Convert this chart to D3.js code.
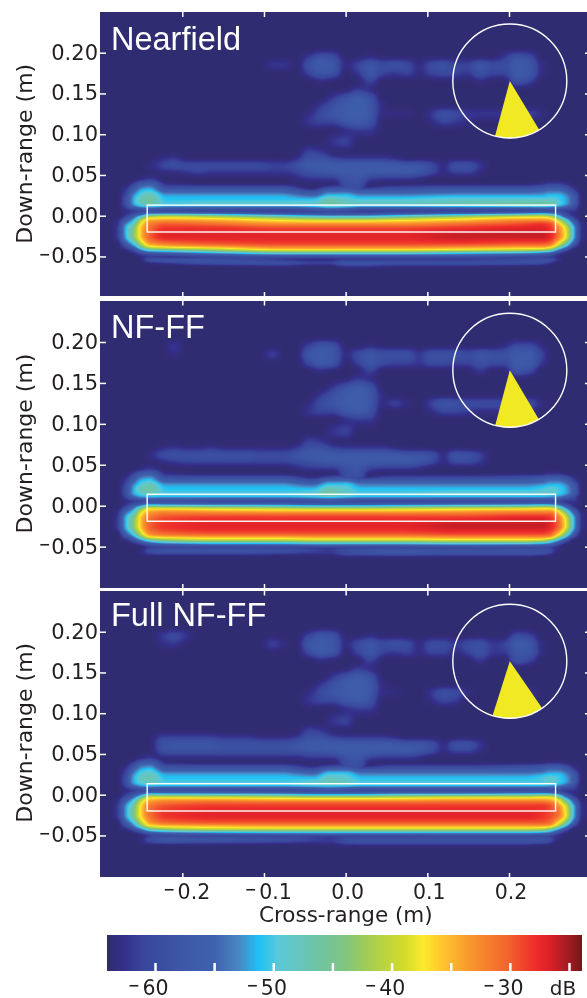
<!DOCTYPE html>
<html><head><meta charset="utf-8">
<script src="https://cdnjs.cloudflare.com/ajax/libs/d3/7.8.5/d3.min.js"></script>
<style>
html,body{margin:0;padding:0;background:#fff;overflow:hidden}
#c,#s{position:absolute;left:0;top:0}
text{font-family:"DejaVu Sans";fill:#231f20}
</style></head><body>
<canvas id="c" width="587" height="998"></canvas>
<svg id="s" width="587" height="998"></svg>
<script>
const panelNames=["Nearfield","NF-FF","Full NF-FF"];
const xTicks=[-0.2,-0.1,0,0.1,0.2];
const yTicks=[0.2,0.15,0.1,0.05,0,-0.05];
const cbTicks=[-60,-55,-50,-45,-40,-35,-30,-25];
const cbLabels=[-60,-50,-40,-30];
const floorDb=-64;
const apertureX=[-0.243,0.257];
const apertureY=[[0.013,-0.02],[0.014,-0.019],[0.0135,-0.02]];
const sectorCentreX=0.201;
const sectorCentreY=[0.1653,0.1655,0.1637];
const sectorFrom=[149,149.4,145.4];
const sectorTo=[195,194.8,197.6];
const cmapDb=[-64,-63.4,-62.6,-61,-58,-55,-53,-51.2,-49.6,-46.5,-44,-41.6,-38.8,-37.3,-35.7,-33.2,-30.3,-27.8,-26.7,-25,-24];
const cmapColors=["#302c71","#322d7a","#342f8a","#39469b","#3c56a5","#3e62ae","#4a84c1","#1fc2f5","#5ac8d8","#6cc4a8","#7fc481","#aacf4c","#d6dc2a","#fcea2e","#fec52e","#f8942c","#f3662e","#ee2c2a","#dd2128","#a01c22","#7a1618"];

// Levels are dB above the floor.
const bandCols=[-.29,-.28,-.27,-.26,-.25,-.24,-.22,-.16,-.08,-.04,-.02,0,.02,.06,.14,.22,.24,.25,.26,.27,.28,.29];
const bandRows=[.045,.04,.035,.03,.025,.02,.015,.012,.009,.006,.003,0,-.003,-.006,-.01,-.015,-.025,-.035,-.039,-.042,-.045,-.048,-.051,-.054,-.058,-.062,-.066];
const bandNear=[
[0,0,0,0,1,2,0,0,0,0,0,0,0,0,0,0,0,0,0,0,0,0],
[0,0,0,2,6,7,1,0,0,0,0,0,0,0,0,0,1,2,2,1,0,0],
[0,0,1,5,10,11,4,4,4,0,3,4,1,3,4,4,5,6,6,4,1,0],
[0,0,2,8,13,14,8,8,8,4,9,9,7,7,8,8,9,10,10,8,3,0],
[0,0,3,11,15,17,12,12,12,9,13,13,11,11,12,12,12,13,13,11,6,0],
[0,0,4,12,17,18,13,13,13,13,17,15,14,14,15,15,15,15,14,12,7,0],
[0,0,4,12,16,18,14,15,15,15,18,17,16,16,17,18,18,18,15,12,7,0],
[0,0,3,10,14,15,13,13,13,14,16,15,14,14,15,16,16,15,13,10,5,0],
[0,0,2,5,8,9,7,6,6,8,10,9,6,6,6,6,7,7,7,5,3,0],
[0,0,1,2,3,4,3,2,2,3,4,3,2,2,2,2,3,3,3,2,2,0],
[0,0,1,3,5,9,9,8,5,4,4,4,4,5,7,10,11,10,7,3,1,0],
[0,0,2,7,13,20,23,20,15,13,12,12,12,14,19,23,24,21,14,5,1,0],
[0,0,4,10,19,26,27,26,22,20,19,19,19,21,25,28,28,27,20,11,3,0],
[0,1,7,13,24,30,31,30,27,26,26,26,26,27,29,32,32,31,25,16,6,0],
[0,1,10,16,27,32,34,33,31,31,31,31,31,31,33,35,36,35,29,21,9,1],
[0,2,12,19,29,33,36,36,35,35,35,35,35,35,36,37,37,36,32,25,12,1],
[0,2,12,20,29,34,37,37,37,37,37,37,37,37,38,38,38,37,33,26,12,1],
[0,0,6,13,23,30,32,34,35,35,35,35,35,35,35,34,34,33,26,17,6,0],
[0,0,3,8,17,24,26,28,31,31,31,31,31,31,30,29,29,27,19,10,2,0],
[0,0,1,4,11,16,18,22,27,27,27,27,27,27,26,24,23,20,11,4,0,0],
[0,0,0,2,6,9,10,14,18,18,18,18,18,18,16,14,12,10,5,1,0,0],
[0,0,0,0,2,3,4,7,10,10,10,10,10,10,9,7,6,4,1,0,0,0],
[0,0,0,0,1,2,1,2,3,3,3,3,3,3,3,2,2,2,1,0,0,0],
[0,0,0,0,1,5,6,5,2,1,1,2,2,2,2,4,5,5,2,0,0,0],
[0,0,0,0,0,1,2,5,5,3,3,6,6,5,5,5,4,2,0,0,0,0],
[0,0,0,0,0,0,0,0,1,0,0,2,2,1,1,0,0,0,0,0,0,0],
[0,0,0,0,0,0,0,0,0,0,0,0,0,0,0,0,0,0,0,0,0,0]];
const bandNfff=[
[0,0,0,0,1,2,0,0,0,0,0,0,0,0,0,0,0,0,0,0,0,0],
[0,0,0,2,6,7,1,0,0,0,0,0,0,0,0,0,0,1,1,0,0,0],
[0,0,1,5,10,11,4,4,4,1,3,4,1,3,3,4,5,6,6,4,1,0],
[0,0,2,8,13,14,8,8,8,5,10,10,7,7,7,7,8,10,10,8,3,0],
[0,0,3,11,15,17,12,12,12,10,14,14,11,11,11,11,12,13,13,11,6,0],
[0,0,4,12,17,18,13,13,13,13,17,15,13,13,13,13,14,15,14,12,7,0],
[0,0,4,12,15,16,14,14,14,15,18,16,14,14,15,15,15,15,14,12,7,0],
[0,0,3,10,13,14,14,14,14,15,16,15,14,14,14,14,14,13,12,9,4,0],
[0,0,2,6,9,10,9,9,9,10,11,10,9,9,9,9,9,9,8,5,3,0],
[0,0,1,2,3,4,4,3,3,4,5,4,3,3,3,3,4,4,3,2,2,0],
[0,0,1,3,5,7,7,6,6,5,5,5,5,5,6,7,7,6,4,2,1,0],
[0,0,2,7,12,18,16,15,14,13,13,13,13,14,15,16,18,18,14,6,1,0],
[0,0,4,10,19,25,25,24,23,22,22,22,22,23,24,25,26,26,20,11,3,0],
[0,1,7,13,24,29,30,29,28,28,28,28,28,28,29,30,30,30,26,16,6,0],
[0,1,10,16,27,31,33,33,33,33,33,33,33,33,33,34,34,34,30,21,9,1],
[0,2,12,19,29,33,35,36,36,36,36,36,36,36,36,37,37,36,33,25,12,1],
[0,2,12,20,29,34,36,37,37,37,37,37,37,37,38,38,38,37,34,26,12,1],
[0,0,7,14,24,31,33,34,34,34,34,34,34,34,35,35,35,34,28,18,6,0],
[0,0,3,9,18,25,27,28,28,29,29,29,29,29,30,30,30,29,21,11,2,0],
[0,0,1,5,11,17,21,24,24,25,25,25,25,25,26,26,25,20,13,5,0,0],
[0,0,0,2,6,10,14,16,16,17,17,17,17,17,18,18,16,13,7,2,0,0],
[0,0,0,0,2,4,6,8,8,9,9,9,9,9,10,9,8,7,3,0,0,0],
[0,0,0,0,0,2,2,2,2,2,2,2,2,2,3,3,3,2,1,0,0,0],
[0,0,0,0,1,4,6,6,5,3,2,4,5,6,5,5,5,4,1,0,0,0],
[0,0,0,0,1,3,4,4,3,2,2,4,5,6,5,5,5,3,0,0,0,0],
[0,0,0,0,0,0,0,0,0,0,0,1,1,1,1,1,0,0,0,0,0,0],
[0,0,0,0,0,0,0,0,0,0,0,0,0,0,0,0,0,0,0,0,0,0]];
const bandFull=[
[0,0,0,0,1,2,0,0,0,0,0,0,0,0,0,0,0,0,0,0,0,0],
[0,0,0,2,6,7,1,0,0,0,0,0,0,0,0,0,0,1,1,0,0,0],
[0,0,1,5,10,11,4,4,4,1,3,4,1,3,3,4,5,6,6,4,1,0],
[0,0,2,8,13,14,8,8,8,5,10,10,7,7,7,7,8,10,10,8,3,0],
[0,0,3,11,15,16,12,12,12,10,14,14,11,11,11,11,12,13,13,11,6,0],
[0,0,4,12,16,17,13,13,13,13,16,15,13,13,13,13,14,15,14,12,7,0],
[0,0,4,12,15,16,14,14,14,15,17,16,14,14,14,14,14,15,14,12,7,0],
[0,0,3,10,13,14,14,14,14,15,15,15,14,14,14,14,14,13,12,9,4,0],
[0,0,2,6,9,10,9,9,9,10,11,10,9,9,9,9,9,9,8,5,3,0],
[0,0,1,2,3,4,4,3,3,4,5,4,3,3,3,3,4,4,3,2,2,0],
[0,0,1,3,5,7,7,7,6,5,5,5,5,6,6,7,7,6,4,2,1,0],
[0,0,2,6,11,18,17,16,15,14,14,14,14,15,16,17,18,18,14,6,1,0],
[0,0,4,9,17,25,25,25,24,23,23,23,23,24,25,25,26,26,20,10,3,0],
[0,1,6,13,23,29,30,30,29,29,29,29,29,29,30,30,30,29,26,16,6,0],
[0,1,9,16,26,31,33,34,34,34,34,34,34,34,34,34,34,33,29,21,9,1],
[0,2,11,18,28,33,35,36,36,36,36,36,36,36,36,36,36,35,32,25,12,1],
[0,2,11,19,28,33,36,37,37,37,37,37,37,37,37,37,36,35,33,26,12,1],
[0,0,6,13,23,30,33,34,34,34,34,34,34,34,34,34,34,33,27,18,6,0],
[0,0,3,9,18,25,27,28,29,29,29,29,29,29,29,29,29,28,21,11,2,0],
[0,0,1,5,11,18,22,25,25,25,25,25,25,25,25,25,24,20,13,5,0,0],
[0,0,0,2,6,11,14,16,17,17,17,17,17,17,17,17,16,13,7,2,0,0],
[0,0,0,0,2,4,6,8,9,9,9,9,9,9,9,9,8,7,3,0,0,0],
[0,0,0,0,0,2,3,2,2,2,2,2,2,2,3,3,3,2,1,0,0,0],
[0,0,0,0,1,4,6,6,5,3,2,4,5,5,5,5,5,4,1,0,0,0],
[0,0,0,0,1,3,5,4,3,2,2,4,5,5,5,5,5,3,0,0,0,0],
[0,0,0,0,0,0,0,0,0,0,0,1,1,1,1,1,0,0,0,0,0,0],
[0,0,0,0,0,0,0,0,0,0,0,0,0,0,0,0,0,0,0,0,0,0]];

const clutterCols=[-.24,-.225,-.21,-.195,-.18,-.165,-.15,-.135,-.12,-.105,-.09,-.075,-.06,-.045,-.03,-.015,0,.015,.03,.045,.06,.075,.09,.105,.12,.135,.15,.165,.18,.195,.21,.225,.24];
const clutterRows=[.205,.195,.185,.175,.165,.155,.145,.135,.125,.115,.105,.09,.078,.07,.062,.054,.046,.038,.03];
const clutterNear=[
[0,0,0,0,0,0,0,0,0,0,0,0,0,0,0,0,0,0,0,0,0,0,0,0,0,0,0,0,0,0,0,0,0],
[0,0,0,0,0,0,0,0,0,0,0,0,0,2,5,4,0,0,1,0,0,0,0,0,0,0,0,0,0,2,5,4,0],
[0,0,0,0,0,0,0,0,0,0,2,2,0,5,7,6,1,3,6,4,5,4,1,4,5,3,3,6,4,4,7,6,1],
[0,0,0,0,0,0,0,0,0,0,0,0,0,3,6,5,0,2,6,3,2,3,1,3,4,3,2,5,3,3,7,6,1],
[0,0,0,0,0,0,0,0,0,0,0,0,0,0,1,0,0,0,3,0,0,0,0,0,0,0,0,1,0,0,5,3,0],
[0,0,0,0,0,0,0,0,0,0,0,0,0,0,0,0,0,2,1,0,0,0,0,0,0,0,0,0,0,0,0,0,0],
[0,0,0,0,0,0,0,0,0,0,0,0,0,0,0,2,5,7,5,0,0,0,0,0,0,0,0,0,0,0,0,0,0],
[0,0,0,0,0,0,0,0,0,0,0,0,0,0,2,5,7,8,6,1,0,0,0,0,0,0,0,0,0,0,0,0,0],
[0,0,0,0,0,0,0,0,0,0,0,0,0,1,4,6,7,8,6,1,1,1,0,2,5,4,2,2,2,2,1,3,1],
[0,0,0,0,0,0,0,0,0,0,0,0,0,2,3,3,6,7,5,0,0,0,0,1,3,2,1,0,0,0,0,0,0],
[0,0,0,0,0,0,0,0,0,0,0,0,0,0,0,0,1,2,2,0,0,0,0,0,0,0,0,0,0,0,0,0,0],
[0,0,0,0,0,0,0,0,0,0,0,0,0,0,0,2,3,0,0,0,0,0,0,0,0,0,0,0,0,0,0,0,0],
[0,0,0,0,0,0,0,0,0,0,0,0,0,3,2,0,0,0,0,0,0,0,0,0,0,0,0,0,0,0,0,0,0],
[0,1,2,0,0,0,0,0,0,0,0,0,1,5,5,3,2,2,2,2,1,0,0,0,0,0,0,0,0,0,0,0,0],
[1,3,5,4,4,4,4,4,4,4,3,3,5,7,7,7,7,7,7,7,7,6,6,4,1,5,5,2,0,0,0,0,0],
[0,1,1,2,3,2,2,2,2,2,2,2,3,5,6,7,7,7,7,7,7,7,6,4,1,3,3,1,0,0,0,0,0],
[0,0,0,0,0,0,0,0,0,0,0,0,1,2,2,2,5,6,3,2,2,2,1,0,0,0,0,0,0,0,0,0,0],
[0,0,0,0,0,0,0,0,0,0,0,0,0,0,0,0,4,5,0,0,0,0,0,0,0,0,0,0,0,0,0,0,0],
[0,0,0,0,0,0,0,0,0,0,0,0,0,0,0,0,4,4,0,0,0,0,0,0,0,0,0,0,0,0,0,0,0]];
const clutterNfff=[
[0,0,0,0,0,0,0,0,0,0,0,0,0,0,0,0,0,0,0,0,0,0,0,0,0,0,0,0,0,0,0,0,0],
[0,0,2,0,0,0,0,0,0,0,0,0,0,3,6,5,0,0,1,0,0,0,0,0,0,0,0,0,0,1,4,4,1],
[0,0,1,0,0,0,0,0,0,0,3,0,0,6,7,6,1,4,6,5,5,5,2,5,5,5,4,6,5,5,7,7,3],
[0,0,0,0,0,0,0,0,0,0,0,0,0,4,7,6,0,3,6,4,3,3,2,4,4,3,3,5,4,4,7,7,2],
[0,0,0,0,0,0,0,0,0,0,0,0,0,0,1,0,0,0,3,0,0,0,0,0,0,0,0,2,0,0,6,4,0],
[0,0,0,0,0,0,0,0,0,0,0,0,0,0,0,0,0,2,1,0,0,0,0,0,0,0,0,0,0,0,0,0,0],
[0,0,0,0,0,0,0,0,0,0,0,0,0,0,0,2,5,7,5,0,0,0,0,0,0,0,0,0,0,0,0,0,0],
[0,0,0,0,0,0,0,0,0,0,0,0,0,0,2,5,7,8,6,1,0,0,0,0,0,0,0,0,0,0,0,0,0],
[0,0,0,0,0,0,0,0,0,0,0,0,0,1,4,6,7,8,6,1,3,1,0,3,6,5,4,4,4,4,3,4,1],
[0,0,0,0,0,0,0,0,0,0,0,0,0,2,3,3,6,7,5,0,0,0,0,1,3,3,2,1,1,1,1,1,0],
[0,0,0,0,0,0,0,0,0,0,0,0,0,0,0,0,1,2,2,0,0,0,0,0,0,0,0,0,0,0,0,0,0],
[0,0,0,0,0,0,0,0,0,0,0,0,0,0,0,2,3,0,0,0,0,0,0,0,0,0,0,0,0,0,0,0,0],
[0,0,0,0,0,0,0,0,0,0,0,0,0,3,2,0,0,0,0,0,0,0,0,0,0,0,0,0,0,0,0,0,0],
[0,1,2,1,1,2,1,1,1,1,1,1,2,5,5,3,2,2,2,2,1,0,0,0,0,0,0,0,0,0,0,0,0],
[1,4,5,5,5,5,5,5,5,4,4,4,6,7,7,7,7,7,7,7,7,6,6,5,1,6,5,3,0,0,0,0,0],
[0,1,2,3,3,3,3,3,3,3,3,3,4,5,6,7,7,7,7,7,7,7,6,4,1,4,4,2,0,0,0,0,0],
[0,0,0,0,0,0,0,0,0,0,0,0,1,2,2,2,5,6,3,2,2,2,1,0,0,0,0,0,0,0,0,0,0],
[0,0,0,0,0,0,0,0,0,0,0,0,0,0,0,0,4,5,0,0,0,0,0,0,0,0,0,0,0,0,0,0,0],
[0,0,0,0,0,0,0,0,0,0,0,0,0,0,0,0,4,4,0,0,0,0,0,0,0,0,0,0,0,0,0,0,0]];
const clutterFull=[
[0,0,0,0,0,0,0,0,0,0,0,0,0,0,0,0,0,0,0,0,0,0,0,0,0,0,0,0,0,0,0,0,0],
[0,2,4,2,0,0,0,0,0,0,0,0,0,3,6,5,0,0,1,0,0,0,0,0,0,0,0,0,0,0,4,3,0],
[0,1,2,0,0,0,0,0,0,0,3,1,0,6,7,6,1,4,6,4,5,4,1,4,4,2,4,5,2,3,7,6,1],
[0,0,0,0,0,0,0,0,0,0,0,0,0,4,7,6,0,3,6,3,2,3,1,3,3,1,3,5,2,2,6,6,1],
[0,0,0,0,0,0,0,0,0,0,0,0,0,0,1,0,0,0,3,0,0,0,0,0,0,0,0,2,0,0,5,3,0],
[0,0,0,0,0,0,0,0,0,0,0,0,0,0,0,0,0,2,1,0,0,0,0,0,0,0,0,0,0,0,0,0,0],
[0,0,0,0,0,0,0,0,0,0,0,0,0,0,0,2,5,7,5,0,0,0,0,0,0,0,0,0,0,0,0,0,0],
[0,0,0,0,0,0,0,0,0,0,0,0,0,0,2,5,7,8,6,1,0,0,0,0,0,0,0,0,0,0,0,0,0],
[0,0,0,0,0,0,0,0,0,0,0,0,0,1,4,6,7,8,6,1,1,0,0,2,5,4,1,0,0,0,0,2,0],
[0,0,0,0,0,0,0,0,0,0,0,0,0,2,3,3,6,7,5,0,0,0,0,1,3,2,0,0,0,0,0,0,0],
[0,0,0,0,0,0,0,0,0,0,0,0,0,0,0,0,1,2,2,0,0,0,0,0,0,0,0,0,0,0,0,0,0],
[0,0,0,0,0,0,0,0,0,0,0,0,0,0,0,2,3,0,0,0,0,0,0,0,0,0,0,0,0,0,0,0,0],
[0,0,0,0,0,0,0,0,0,0,0,0,0,3,2,0,0,0,0,0,0,0,0,0,0,0,0,0,0,0,0,0,0],
[0,3,3,3,3,3,2,2,2,1,1,1,2,5,5,3,2,2,2,2,1,0,0,0,0,0,0,0,0,0,0,0,0],
[0,5,6,6,6,6,5,5,5,5,5,5,6,7,7,7,7,7,7,7,7,6,6,5,1,5,5,2,0,0,0,0,0],
[0,4,5,5,5,5,5,5,5,5,5,5,5,6,6,7,7,7,7,7,7,7,6,4,1,3,3,1,0,0,0,0,0],
[0,1,1,1,1,1,1,1,1,1,1,1,1,2,2,2,5,6,3,2,2,2,1,0,0,0,0,0,0,0,0,0,0],
[0,0,0,0,0,0,0,0,0,0,0,0,0,0,0,0,4,5,0,0,0,0,0,0,0,0,0,0,0,0,0,0,0],
[0,0,0,0,0,0,0,0,0,0,0,0,0,0,0,0,4,4,0,0,0,0,0,0,0,0,0,0,0,0,0,0,0]];
const bandGrids=[bandNear,bandNfff,bandFull];
const clutterGrids=[clutterNear,clutterNfff,clutterFull];

// page layout
const plotLeft=100,plotRight=587;
const panelTop=[12,300.5,590.5],panelBottom=[296,588,877];
const tick02=[52.7,342,631.7],tick00=[215.7,505.7,794.7];
const labelBase=[50.3,338,626];
const x=d3.scaleLinear().domain([-0.2,0.2]).range([182.3,509]);
const ys=tick02.map((t,i)=>d3.scaleLinear().domain([0,0.2]).range([tick00[i],t]));
const color=d3.scaleLinear().domain(cmapDb).range(cmapColors).interpolate(d3.interpolateRgb).clamp(true);

// monotone cubic resampling; the field is zero outside its padded grid
function slopes(xs,v){const n=xs.length,d=[],m=new Array(n);
  for(let i=0;i<n-1;i++)d.push((v[i+1]-v[i])/(xs[i+1]-xs[i]));
  m[0]=d[0];m[n-1]=d[n-2];
  for(let i=1;i<n-1;i++){m[i]=d[i-1]*d[i]<=0?0:(2*d[i-1]*d[i])/(d[i-1]+d[i]);}
  return m;}
function evalCubic(xs,v,m,t){const n=xs.length;
  if(t<=xs[0]||t>=xs[n-1])return 0;
  let i=d3.bisectRight(xs,t)-1;const h=xs[i+1]-xs[i],s=(t-xs[i])/h,s2=s*s,s3=s2*s;
  return (2*s3-3*s2+1)*v[i]+(s3-2*s2+s)*h*m[i]+(-2*s3+3*s2)*v[i+1]+(s3-s2)*h*m[i+1];}
function sample(grid,rows,cols,pxX,pxY){
  const c2=[cols[0]-.012,...cols,cols[cols.length-1]+.012];
  const asc=rows.map((r,i)=>[r,[0,...grid[i],0]]).sort((a,b)=>a[0]-b[0]);
  const zero=c2.map(()=>0);
  const yy=[asc[0][0]-.008,...asc.map(d=>d[0]),asc[asc.length-1][0]+.008];
  const g2=[zero,...asc.map(d=>d[1]),zero];
  const byRow=g2.map(d=>{const m=slopes(c2,d);return pxX.map(t=>evalCubic(c2,d,m,t));});
  return pxX.map((_,ix)=>{const col=byRow.map(r=>r[ix]),m=slopes(yy,col);
    return pxY.map(t=>evalCubic(yy,col,m,t));});}
function smooth(f,passes){const k=[1,4,6,4,1],W=f.length,H=f[0].length;
  const cl=(v,a)=>v<0?0:v>a?a:v;
  for(let p=0;p<passes;p++){
    let g=f.map((c,i)=>c.map((_,j)=>{let s=0;for(let a=-2;a<=2;a++)s+=k[a+2]*c[cl(j+a,H-1)];return s/16;}));
    f=g.map((c,i)=>c.map((_,j)=>{let s=0;for(let a=-2;a<=2;a++)s+=k[a+2]*g[cl(i+a,W-1)][j];return s/16;}));
  }
  return f;}

const ctx=document.getElementById("c").getContext("2d");
const lut=d3.range(0,1201).map(i=>d3.rgb(color(floorDb+i/30)));
panelNames.forEach((_,p)=>{
  const y0=Math.round(panelTop[p]),y1=Math.round(panelBottom[p]);
  const W=plotRight-plotLeft,H=y1-y0;
  const pxX=d3.range(W).map(i=>x.invert(plotLeft+i+.5));
  const pxY=d3.range(H).map(i=>ys[p].invert(y0+i+.5));
  const A=smooth(sample(bandGrids[p],bandRows,bandCols,pxX,pxY),1);
  const B=smooth(sample(clutterGrids[p],clutterRows,clutterCols,pxX,pxY),5);
  const img=ctx.createImageData(W,H);
  for(let i=0;i<W;i++)for(let j=0;j<H;j++){
    const v=Math.max(A[i][j],B[i][j],0);
    const c=lut[Math.min(1200,Math.round(v*30))],o=(j*W+i)*4;
    img.data[o]=c.r;img.data[o+1]=c.g;img.data[o+2]=c.b;img.data[o+3]=255;
  }
  ctx.putImageData(img,plotLeft,y0);
});

const svg=d3.select("#s");
function minusStyle(sel,gap,lift){sel.each(function(){
  const t=d3.select(this),s=t.text();
  if(s[0]!=="\u2212")return;
  t.text("");
  t.append("tspan").attr("font-size",14).attr("font-weight","bold").attr("dy",-lift).text("\u2212");
  t.append("tspan").attr("dy",lift).attr("dx",gap).text(s.slice(1));
});}
const whiteTicks=g=>g.call(s=>s.selectAll("path.domain").remove()).call(s=>s.selectAll("line").attr("stroke","#fff").attr("stroke-width",1.5));

panelNames.forEach((name,p)=>{
  const g=svg.append("g");
  const y=ys[p];
  const fy=d=>d3.format(".2f")(d).replace("-","\u2212");
  const left=g.append("g").attr("transform",`translate(${plotLeft},0)`)
    .call(d3.axisLeft(y).tickValues(yTicks).tickSize(-6).tickPadding(3).tickFormat(fy)).call(whiteTicks);
  left.selectAll("text").attr("font-size",21).attr("font-family","DejaVu Sans").attr("fill","#231f20").attr("x",-2).attr("dy",null).attr("y",6.5);
  left.selectAll("text").call(minusStyle,0.5,4.5);
  g.append("g").attr("transform",`translate(${plotRight},0)`)
    .call(d3.axisRight(y).tickValues(yTicks).tickSize(-2).tickFormat("")).call(whiteTicks);
  g.append("g").attr("transform",`translate(0,${panelTop[p]})`)
    .call(d3.axisTop(x).tickValues(xTicks).tickSize(-5).tickFormat("")).call(whiteTicks);
  const bottom=g.append("g").attr("transform",`translate(0,${panelBottom[p]})`)
    .call(d3.axisBottom(x).tickValues(xTicks).tickSize(-4).tickPadding(12).tickFormat(p===2?(d=>d3.format(".1f")(d).replace("-","\u2212")):"")).call(whiteTicks);
  if(p===2){bottom.selectAll("text").attr("font-size",20.5).attr("font-family","DejaVu Sans").attr("fill","#231f20").attr("dy",null)
      .attr("y",22.3).call(minusStyle,2.5,5);
    bottom.selectAll(".tick text").attr("dx",d=>d<0?4:1.5);}
  g.append("text").attr("transform",`translate(31.7,${y(0.076)}) rotate(-90)`)
    .attr("text-anchor","middle").attr("font-size",22).text("Down-range (m)");
  g.append("rect").attr("x",x(apertureX[0])).attr("y",y(apertureY[p][0]))
    .attr("width",x(apertureX[1])-x(apertureX[0])).attr("height",y(apertureY[p][1])-y(apertureY[p][0]))
    .attr("fill","none").attr("stroke","#fff").attr("stroke-width",1.4);
  const cx=x(sectorCentreX),cy=y(sectorCentreY[p]),R=57;
  g.append("path").attr("transform",`translate(${cx},${cy})`)
    .attr("d",d3.arc()({innerRadius:0,outerRadius:R,startAngle:sectorFrom[p]*Math.PI/180,endAngle:sectorTo[p]*Math.PI/180}))
    .attr("fill","#f2e925");
  g.append("circle").attr("cx",cx).attr("cy",cy).attr("r",R).attr("fill","none").attr("stroke","#fff").attr("stroke-width",1.4);
  g.append("text").attr("x",111).attr("y",labelBase[p]).attr("font-size",32.5)
    .style("font-family","Liberation Sans").style("fill","#fff").text(name);
});
svg.append("text").attr("x",(505+1030)/6+90).attr("y",921.7).attr("text-anchor","middle").attr("font-size",21.5).text("Cross-range (m)");

// colour bar
const cbX=d3.scaleLinear().domain([-60,-25]).range([155,569]);
const cbLeft=107,cbRight=582,cbTop=935,cbBottom=971;
const defs=svg.append("defs").append("linearGradient").attr("id","cb");
defs.selectAll("stop").data(cmapDb).join("stop")
  .attr("offset",d=>(cbX(d)-cbLeft)/(cbRight-cbLeft)).attr("stop-color",(d,i)=>cmapColors[i]);
svg.append("rect").attr("x",cbLeft).attr("y",cbTop).attr("width",cbRight-cbLeft).attr("height",cbBottom-cbTop).attr("fill","url(#cb)");
svg.append("g").attr("transform",`translate(0,${cbBottom})`)
  .call(d3.axisTop(cbX).tickValues(cbTicks).tickSize(8).tickFormat("")).call(whiteTicks)
  .call(s=>s.selectAll("line").attr("stroke-width",2.5));
const cbAxis=svg.append("g").attr("transform",`translate(0,${cbBottom})`)
  .call(d3.axisBottom(cbX).tickValues(cbLabels).tickSize(0).tickFormat(d=>"\u2212"+Math.abs(d)));
cbAxis.select("path.domain").remove();
cbAxis.selectAll("text").attr("font-size",20.5).attr("font-family","DejaVu Sans").attr("fill","#231f20").attr("y",24).attr("dy",null).attr("dx",-7).call(minusStyle,2.5,5);
svg.append("text").attr("x",563).attr("y",995).attr("text-anchor","middle").attr("font-size",20).text("dB");
</script></body></html>
